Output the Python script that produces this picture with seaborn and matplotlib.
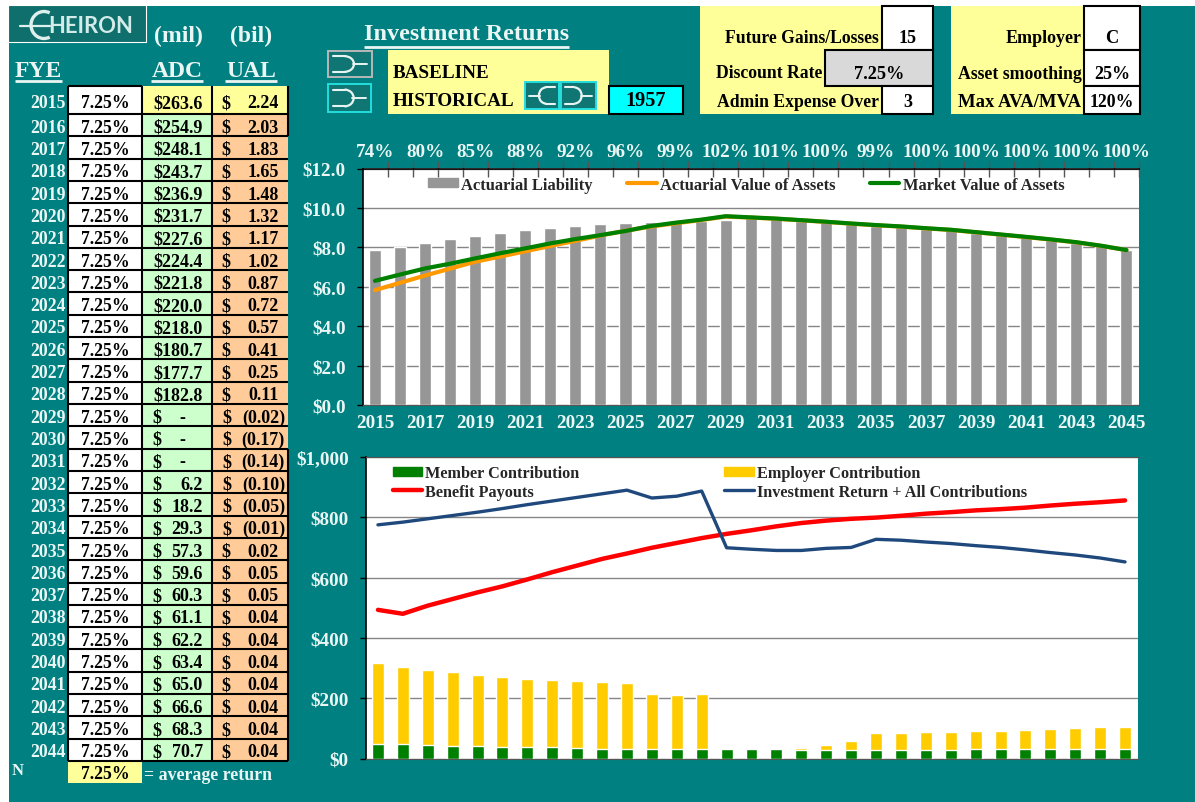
import numpy as np
import seaborn as sns
import matplotlib
matplotlib.use("Agg")
import matplotlib.pyplot as plt
from matplotlib.lines import Line2D
from matplotlib.patches import Arc, Patch, Rectangle

# table on the left
fye = list(range(2015, 2045))
returns = [7.25] * 30
adc = [263.6, 254.9, 248.1, 243.7, 236.9, 231.7, 227.6, 224.4, 221.8, 220.0,
       218.0, 180.7, 177.7, 182.8, 0, 0, 0, 6.2, 18.2, 29.3,
       57.3, 59.6, 60.3, 61.1, 62.2, 63.4, 65.0, 66.6, 68.3, 70.7]
ual = [2.24, 2.03, 1.83, 1.65, 1.48, 1.32, 1.17, 1.02, 0.87, 0.72,
       0.57, 0.41, 0.25, 0.11, -0.02, -0.17, -0.14, -0.10, -0.05, -0.01,
       0.02, 0.05, 0.05, 0.04, 0.04, 0.04, 0.04, 0.04, 0.04, 0.04]

# top chart
years = list(range(2015, 2046))
liability = [7.86, 8.03, 8.21, 8.42, 8.55, 8.72, 8.87, 8.97, 9.06, 9.16, 9.23,
             9.28, 9.30, 9.35, 9.40, 9.48, 9.42, 9.35, 9.27, 9.18, 9.10,
             9.03, 8.94, 8.86, 8.74, 8.62, 8.50, 8.37, 8.23, 8.05, 7.86]
ava = [5.83, 6.20, 6.57, 6.92, 7.27, 7.53, 7.80, 8.07, 8.33, 8.60, 8.84,
       9.05, 9.22, 9.38, 9.56, 9.51, 9.45, 9.37, 9.29, 9.20, 9.12,
       9.05, 8.96, 8.88, 8.76, 8.64, 8.52, 8.39, 8.25, 8.07, 7.86]
mva = [6.30, 6.62, 6.93, 7.17, 7.44, 7.70, 7.95, 8.20, 8.42, 8.62, 8.83,
       9.08, 9.25, 9.40, 9.58, 9.52, 9.46, 9.38, 9.30, 9.21, 9.13,
       9.06, 8.97, 8.89, 8.77, 8.65, 8.53, 8.40, 8.26, 8.08, 7.86]
funded = ["74%", "80%", "85%", "88%", "92%", "96%", "99%", "102%",
          "101%", "100%", "99%", "100%", "100%", "100%", "100%", "100%"]

# bottom chart
member = [49, 48, 44, 42, 41, 38, 37, 37, 34, 33, 33, 32, 32, 31, 31, 30,
          30, 28, 28, 28, 28, 28, 28, 28, 30, 30, 30, 31, 31, 31, 33]
total_contrib = [316, 302, 293, 286, 278, 270, 265, 261, 257, 254, 251, 214, 209, 214, 31, 30,
                 30, 34, 46, 58, 84, 86, 89, 89, 91, 92, 94, 97, 100, 104, 106]
payouts = [493, 480, 507, 529, 551, 571, 594, 618, 640, 662, 680, 699, 715, 731, 745, 757,
           770, 781, 789, 795, 799, 805, 812, 817, 823, 827, 832, 839, 845, 850, 856]
inv_return = [775, 784, 795, 806, 817, 829, 842, 854, 866, 878, 890, 864, 870, 887, 699, 694,
              690, 690, 697, 700, 727, 724, 718, 713, 706, 700, 692, 683, 675, 665, 652]

W, H = 1195, 803
TEAL = "#008080"
YELLOW = "#FFFF99"
GREEN = "#CCFFCC"
ORANGE = "#FFCC99"
LIGHT = "#EAF6F4"
GRID = "#868686"

sns.set_style("white")
plt.rcParams["font.family"] = ["Liberation Serif", "DejaVu Serif"]
plt.rcParams["font.weight"] = "bold"

fig = plt.figure(figsize=(W / 100, H / 100), dpi=100, facecolor="white")

# pixel canvas for the spreadsheet part
bg = fig.add_axes([0, 0, 1, 1], zorder=0)
bg.set_xlim(0, W)
bg.set_ylim(H, 0)
bg.axis("off")


def box(x0, y0, x1, y1, fc, ec="none", lw=0, z=1):
    bg.add_patch(Rectangle((x0, y0), x1 - x0, y1 - y0, facecolor=fc, edgecolor=ec, linewidth=lw, zorder=z))


def txt(x, y, s, size=12.8, color="black", ha="center", **kw):
    return bg.text(x, y + 2, s, fontsize=size, color=color, ha=ha, va="center", fontweight="bold", zorder=5, **kw)


def hline(x0, x1, y, color="black", lw=1.5):
    bg.plot([x0, x1], [y, y], color=color, lw=lw, solid_capstyle="butt", zorder=4)


def vline(x, y0, y1, color="black", lw=1.5):
    bg.plot([x, x], [y0, y1], color=color, lw=lw, solid_capstyle="butt", zorder=4)


def swoosh(x0, y0, x1, y1, border, flip=False):
    box(x0, y0, x1, y1, "#0F7673", border, 1.4, z=2)
    cx, cy = (x0 + x1) / 2, (y0 + y1) / 2
    w, h = x1 - x0, y1 - y0
    s = -1 if flip else 1
    ink = "#E8F4F2"
    ax_c = cx - s * w * 0.12
    theta = (90, 270) if flip else (-90, 90)
    bg.add_patch(Arc((ax_c, cy), w * 0.42, h * 0.6, theta1=theta[0], theta2=theta[1], color=ink, lw=1.6, zorder=3))
    # prongs back from the arc, and the tip
    for dy in (-h * 0.3, h * 0.3):
        bg.plot([ax_c, ax_c - s * w * 0.26], [cy + dy, cy + dy], color=ink, lw=1.5, zorder=3)
    bg.plot([cx + s * w * 0.06, cx + s * w * 0.38], [cy, cy], color=ink, lw=1.4, zorder=3)


box(9, 7, W, H, TEAL, z=0)

# logo
box(8, 6, 146, 43, "#0F6F6C", "white", 0.8, z=2)
bg.add_patch(Arc((44, 26), 26, 27, theta1=65, theta2=295, color="#DDF0EE", lw=2.4, zorder=3))
bg.plot([20, 50], [26.5, 26.5], color="#DDF0EE", lw=1.6, zorder=3)
bg.text(48, 26.5, "HEIRON", fontsize=15.8, color="#D4ECE9", ha="left", va="center",
        family=["Lato", "DejaVu Sans"], fontweight="bold", zorder=5)

# column headers
txt(178, 34, "(mil)", 17, LIGHT)
txt(251, 34, "(bil)", 17, LIGHT)
txt(38.5, 69.5, "FYE", 17, LIGHT)
txt(177.5, 69.5, "ADC", 17, LIGHT)
txt(251.5, 69.5, "UAL", 17, LIGHT)
hline(15, 62.5, 82, LIGHT, 2)
hline(151.5, 203.5, 82, LIGHT, 2)
hline(225, 277, 82, LIGHT, 2)

# table rows
table_top, first_bottom, row_h = 87.0, 115.0, 22.31
col_x = [68.5, 142.3, 212.3, 288.0]
for i, yr in enumerate(fye):
    y0 = table_top if i == 0 else first_bottom + (i - 1) * row_h
    y1 = first_bottom + i * row_h
    yc = (y0 + y1) / 2 + (1 if i == 0 else 0)
    box(col_x[0], y0, col_x[1], y1, "white")
    box(col_x[1], y0, col_x[2], y1, YELLOW if i == 0 else GREEN)
    box(col_x[2], y0, col_x[3], y1, YELLOW if i == 0 else ORANGE)
    hline(col_x[0], col_x[3], y1)
    txt(66, yc, str(yr), 12.8, LIGHT, ha="right")
    txt(105.5, yc, f"{returns[i]:.2f}%")
    if adc[i] >= 100:
        txt(203, yc, f"${adc[i]:.1f}", 13, ha="right")
    elif adc[i] == 0:
        txt(157, yc, "$", 13)
        txt(185, yc, "-", 13, ha="right")
    else:
        txt(157, yc, "$", 13)
        txt(203, yc, f"{adc[i]:.1f}", 13, ha="right")
    if ual[i] < 0:
        txt(227, yc, "$", 13)
        txt(285, yc, f"({abs(ual[i]):.2f})", 13, ha="right")
    else:
        txt(225.5, yc, "$", 13)
        txt(278.5, yc, f"{ual[i]:.2f}", 13, ha="right")
hline(col_x[0], col_x[1], table_top)
table_bottom = first_bottom + 29 * row_h
for x in col_x[:3]:
    vline(x, table_top, table_bottom)
vline(col_x[3], table_top, first_bottom + row_h)
vline(col_x[3], first_bottom + 15 * row_h, table_bottom)

# average row
box(68, table_bottom, 142, 784, YELLOW)
txt(105.5, 773, f"{np.mean(returns):.2f}%")
txt(144, 774, "= average return", 12.8, LIGHT, ha="left")
txt(17.5, 769, "N", 12, LIGHT)

# scenario panel
txt(466.5, 33, "Investment Returns", 17.4, LIGHT)
hline(364, 569, 47.5, LIGHT, 2)
box(388, 51, 609, 115, YELLOW)
txt(392.5, 71.5, "BASELINE", 13.8, ha="left")
txt(392.5, 99, "HISTORICAL", 13.8, ha="left")
swoosh(328, 52, 372, 78, "#B8B8B8")
swoosh(328, 85, 371.5, 113, "#22DDDD")
swoosh(525, 83, 559, 110, "#22DDDD", flip=True)
swoosh(561, 83, 596, 110, "#22DDDD")
box(609, 87, 683, 115, "#00FFFF", "black", 1.5, z=3)
txt(646, 98.5, "1957", 14.6)

# option panels
box(700, 7, 882, 115, YELLOW)
box(882, 6.5, 933, 51, "white", "black", 1.5, z=3)
box(825, 51, 933, 87, "#D9D9D9", "black", 1.5, z=3)
box(882, 87, 933, 115, "white", "black", 1.5, z=3)
txt(879, 36.5, "Future Gains/Losses", 12.7, ha="right")
txt(907.5, 36.5, "15", 13)
txt(822, 72, "Discount Rate", 12.7, ha="right")
txt(879, 72.5, "7.25%", 13.2)
txt(879, 100.5, "Admin Expense Over", 12.7, ha="right")
txt(907.5, 100.5, "3", 13)

box(951, 7, 1085, 115, YELLOW)
box(1084.5, 6.5, 1140, 51, "white", "black", 1.5, z=3)
box(1084.5, 51, 1140, 87, "white", "black", 1.5, z=3)
box(1084.5, 87, 1140, 115, "white", "black", 1.5, z=3)
txt(1082, 36.5, "Employer", 13, ha="right")
txt(1112, 36.5, "C", 13.2)
txt(1082, 72.5, "Asset smoothing", 12.8, ha="right")
txt(1112, 72.5, "25%", 13)
txt(1081, 100.5, "Max AVA/MVA", 13.4, ha="right")
txt(1112, 100.5, "120%", 12.8)


def chart_axes(x0, y0, x1, y1):
    ax = fig.add_axes([x0 / W, 1 - y1 / H, (x1 - x0) / W, (y1 - y0) / H], zorder=2)
    ax.set_facecolor("white")
    ax.set_xlim(years[0] - 0.5, years[-1] + 0.5)
    ax.grid(False)
    ax.yaxis.grid(True, color=GRID, lw=1)
    ax.set_axisbelow(True)
    ax.spines["right"].set_visible(False)
    ax.spines["left"].set_color("black")
    ax.spines["left"].set_linewidth(1.2)
    ax.tick_params(axis="y", left=True, length=4, width=1, color="black", pad=8,
                   labelsize=13.8, labelcolor=LIGHT)
    ax.set_xlabel("")
    ax.set_ylabel("")
    return ax


# Top chart
ax1 = chart_axes(362.5, 169.5, 1139, 406)
sns.barplot(x=years, y=liability, color="#969696", width=0.48, saturation=1, native_scale=True, ax=ax1)
sns.lineplot(x=years, y=ava, color="#FF9900", lw=3, solid_capstyle="round", ax=ax1)
sns.lineplot(x=years, y=mva, color="#008000", lw=3, solid_capstyle="round", ax=ax1)
ax1.set_xlim(years[0] - 0.5, years[-1] + 0.5)
ax1.set_ylim(0, 12)
ax1.set_yticks(np.arange(0, 13, 2))
ax1.set_yticklabels([f"${v:.1f}" for v in np.arange(0, 13, 2)])
ax1.set_xticks(years[::2])
ax1.set_xticklabels(years[::2])
ax1.tick_params(axis="x", bottom=False, labelsize=13.8, labelcolor=LIGHT, pad=3)
ax1.set_xticks([y - 0.5 for y in years[1:]] + [years[-1] + 0.5], minor=True)
ax1.tick_params(axis="x", which="minor", top=True, bottom=False, direction="inout", length=11, width=1, color="#555555")
ax1.spines["top"].set_color("black")
ax1.spines["top"].set_linewidth(1.2)
ax1.spines["bottom"].set_color("#555555")

top1 = ax1.secondary_xaxis("top")
top1.set_xticks(years[::2])
top1.set_xticklabels(funded)
top1.tick_params(axis="x", length=0, labelsize=13.8, labelcolor=LIGHT, pad=6)
top1.spines["top"].set_visible(False)

ax1.legend(
    handles=[
        Patch(color="#969696", label="Actuarial Liability"),
        Line2D([], [], color="#FF9900", lw=3, label="Actuarial Value of Assets"),
        Line2D([], [], color="#008000", lw=3, label="Market Value of Assets"),
    ],
    ncol=3, frameon=False, handlelength=1.8, handleheight=0.5, handletextpad=0.2,
    columnspacing=2.06, loc="upper left", bbox_to_anchor=(0.072, 1.008), borderaxespad=0.2,
    prop={"weight": "bold", "size": 11.9, "family": "Liberation Serif"},
)

# Bottom chart
ax2 = chart_axes(365.5, 458, 1137.5, 759.5)
sns.barplot(x=years, y=total_contrib, color="#FFCC00", width=0.48, saturation=1, native_scale=True, ax=ax2)
sns.barplot(x=years, y=member, color="#008000", width=0.48, saturation=1, native_scale=True, ax=ax2)
sns.lineplot(x=years, y=payouts, color="#FF0000", lw=3.2, solid_capstyle="round", ax=ax2)
sns.lineplot(x=years, y=inv_return, color="#1F497D", lw=2.4, solid_capstyle="round", ax=ax2)
ax2.set_xlim(years[0] - 0.5, years[-1] + 0.5)
ax2.set_ylim(0, 1000)
ax2.set_yticks(np.arange(0, 1001, 200))
ax2.set_yticklabels([f"${v:,}" for v in range(0, 1001, 200)])
ax2.set_xticks([])
ax2.spines["top"].set_color("#555555")
ax2.spines["bottom"].set_color("#555555")

ax2.legend(
    handles=[
        Patch(color="#008000", label="Member Contribution"),
        Line2D([], [], color="#FF0000", lw=3.2, label="Benefit Payouts"),
        Patch(color="#FFCC00", label="Employer Contribution"),
        Line2D([], [], color="#1F497D", lw=2.4, label="Investment Return + All Contributions"),
    ],
    ncol=2, frameon=False, handlelength=1.8, handleheight=0.5, handletextpad=0.2,
    columnspacing=8.9, labelspacing=0.15, loc="upper left", bbox_to_anchor=(0.025, 1.0), borderaxespad=0.1,
    prop={"weight": "bold", "size": 11.7, "family": "Liberation Serif"},
)

fig.savefig("out.png", dpi=100, facecolor="white")
